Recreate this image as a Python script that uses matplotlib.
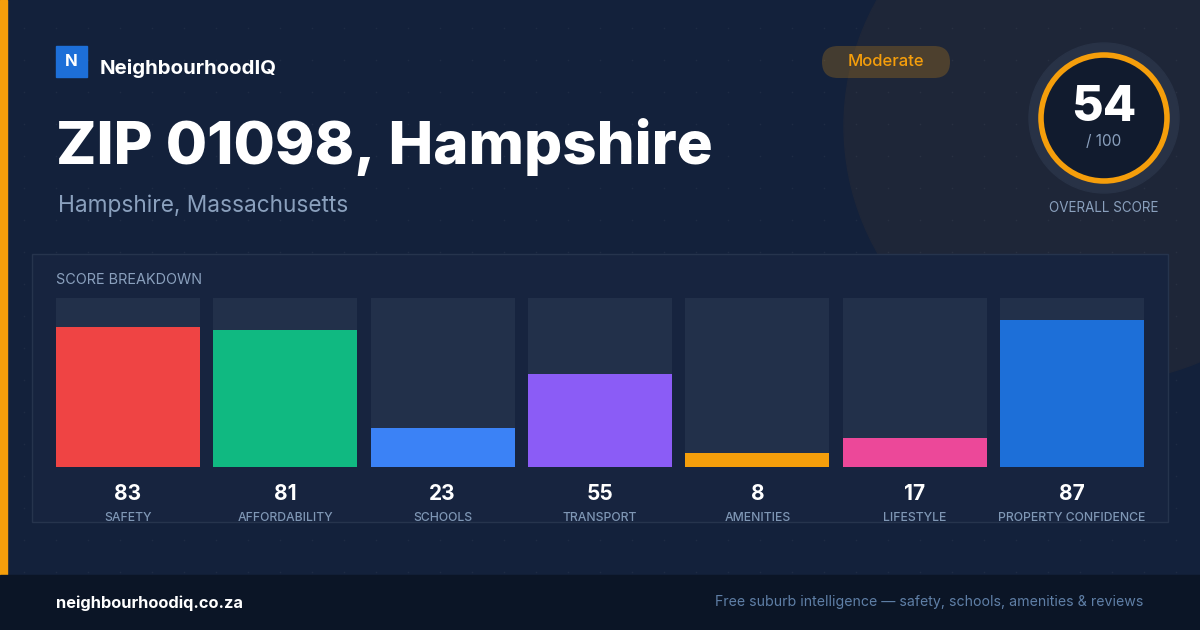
import matplotlib.pyplot as plt
from matplotlib.patches import Rectangle, Circle, FancyBboxPatch
import numpy as np

plt.rcParams['font.family'] = ['Inter', 'DejaVu Sans']

## Score card data ##
categories = ['SAFETY', 'AFFORDABILITY', 'SCHOOLS', 'TRANSPORT',
              'AMENITIES', 'LIFESTYLE', 'PROPERTY CONFIDENCE']
scores = [83, 81, 23, 55, 8, 17, 87]
bar_colors = ['#ef4444', '#10b981', '#3b82f6', '#8b5cf6',
              '#f59e0b', '#ec4899', '#1d6fd8']
overall = 54
rating = 'Moderate'
title = 'ZIP 01098, Hampshire'
subtitle = 'Hampshire, Massachusetts'

W, H = 1200, 630
fig = plt.figure(figsize=(12, 6.3), dpi=100)
fig.patch.set_facecolor('#13213b')

# background axes in pixel coords (y down)
bg = fig.add_axes([0, 0, 1, 1])
bg.set_xlim(0, W)
bg.set_ylim(H, 0)
bg.axis('off')

# big soft circle top right
bg.add_patch(Circle((1100, 126), 256, color='#1e2638', zorder=0))

# faint dot grid
gx, gy = np.meshgrid(np.arange(24, W, 32), np.arange(28, 575, 32))
bg.scatter(gx.ravel(), gy.ravel(), s=1.2, color='white', alpha=0.05, lw=0, zorder=1)

# left accent strip and footer
bg.add_patch(Rectangle((0, 0), 7, 575, color='#f59e0b', zorder=2))
bg.add_patch(Rectangle((0, 575), W, 55, color='#0b1526', zorder=2))

# logo
bg.add_patch(Rectangle((56, 46), 31, 31, color='#1d6fd8', zorder=3))
bg.text(71.5, 62, 'N', color='white', fontsize=12, fontweight='bold',
        ha='center', va='center', zorder=4)
bg.text(100, 68, 'NeighbourhoodIQ', color='white', fontsize=14.7,
        fontweight='bold', ha='left', va='center', zorder=4)

# title + subtitle
bg.text(56, 147, title, color='white', fontsize=43.1, fontweight='heavy',
        ha='left', va='center', zorder=4)
bg.text(58, 206, subtitle, color='#8aa0bd', fontsize=16.3,
        ha='left', va='center', zorder=4)

# rating badge
bg.add_patch(FancyBboxPatch((822, 46), 128, 32, boxstyle='round,pad=0,rounding_size=16',
                            mutation_aspect=1, fc='#f59e0b', alpha=0.22, lw=0, zorder=3))
bg.text(886, 61, rating, color='#f59e0b', fontsize=12, fontweight='medium',
        ha='center', va='center', zorder=4)

# overall gauge
cx, cy = 1104, 118
bg.add_patch(Circle((cx, cy), 75, color='#283246', zorder=3))
bg.add_patch(Circle((cx, cy), 63, fc='#111b2e', ec='#f59e0b', lw=4, zorder=4))
bg.text(cx, 108, str(overall), color='white', fontsize=35, fontweight='heavy',
        ha='center', va='center', zorder=5)
bg.text(cx, 141, '/ 100', color='#8aa0bd', fontsize=11, ha='center',
        va='center', zorder=5)
bg.text(cx, 208, 'OVERALL SCORE', color='#8aa0bd', fontsize=9.7,
        ha='center', va='center', zorder=5)

# breakdown panel
bg.add_patch(Rectangle((32, 254), 1136, 268, fc='#17243f', ec='#26344d',
                       lw=1, zorder=3))
bg.text(56, 280, 'SCORE BREAKDOWN', color='#8aa0bd', fontsize=10.4,
        ha='left', va='center', zorder=4)

# footer text
bg.text(56, 603, 'neighbourhoodiq.co.za', color='white', fontsize=11.8,
        fontweight='bold', ha='left', va='center', zorder=4)
bg.text(1143, 602, 'Free suburb intelligence \u2014 safety, schools, amenities & reviews',
        color='#5f7fa6', fontsize=10.2, ha='right', va='center', zorder=4)

# bar chart axes
left, right, top, bottom = 56, 1144, 298, 467
ax = fig.add_axes([left / W, (H - bottom) / H, (right - left) / W, (bottom - top) / H])
ax.set_facecolor('none')
x = np.arange(len(scores))
width = 144 / 157.33
ax.bar(x, [100] * len(scores), width=width, color='#22304a', zorder=1)
ax.bar(x, scores, width=width, color=bar_colors, zorder=2)
ax.set_xlim(-width / 2, len(scores) - 1 + width / 2)
ax.set_ylim(0, 100)
ax.axis('off')

# value + category labels under bars
for i, (cat, val) in enumerate(zip(categories, scores)):
    ax.annotate(f'{val}', xy=(i, 0), xytext=(0, -19.3), textcoords='offset points',
                ha='center', va='center', color='white', fontsize=15,
                fontweight='bold', annotation_clip=False)
    ax.annotate(cat, xy=(i, 0), xytext=(0, -37), textcoords='offset points',
                ha='center', va='center', color='#7f97b5', fontsize=8.8,
                fontweight='medium', annotation_clip=False)

plt.savefig('out.png', dpi=100, facecolor=fig.get_facecolor())
